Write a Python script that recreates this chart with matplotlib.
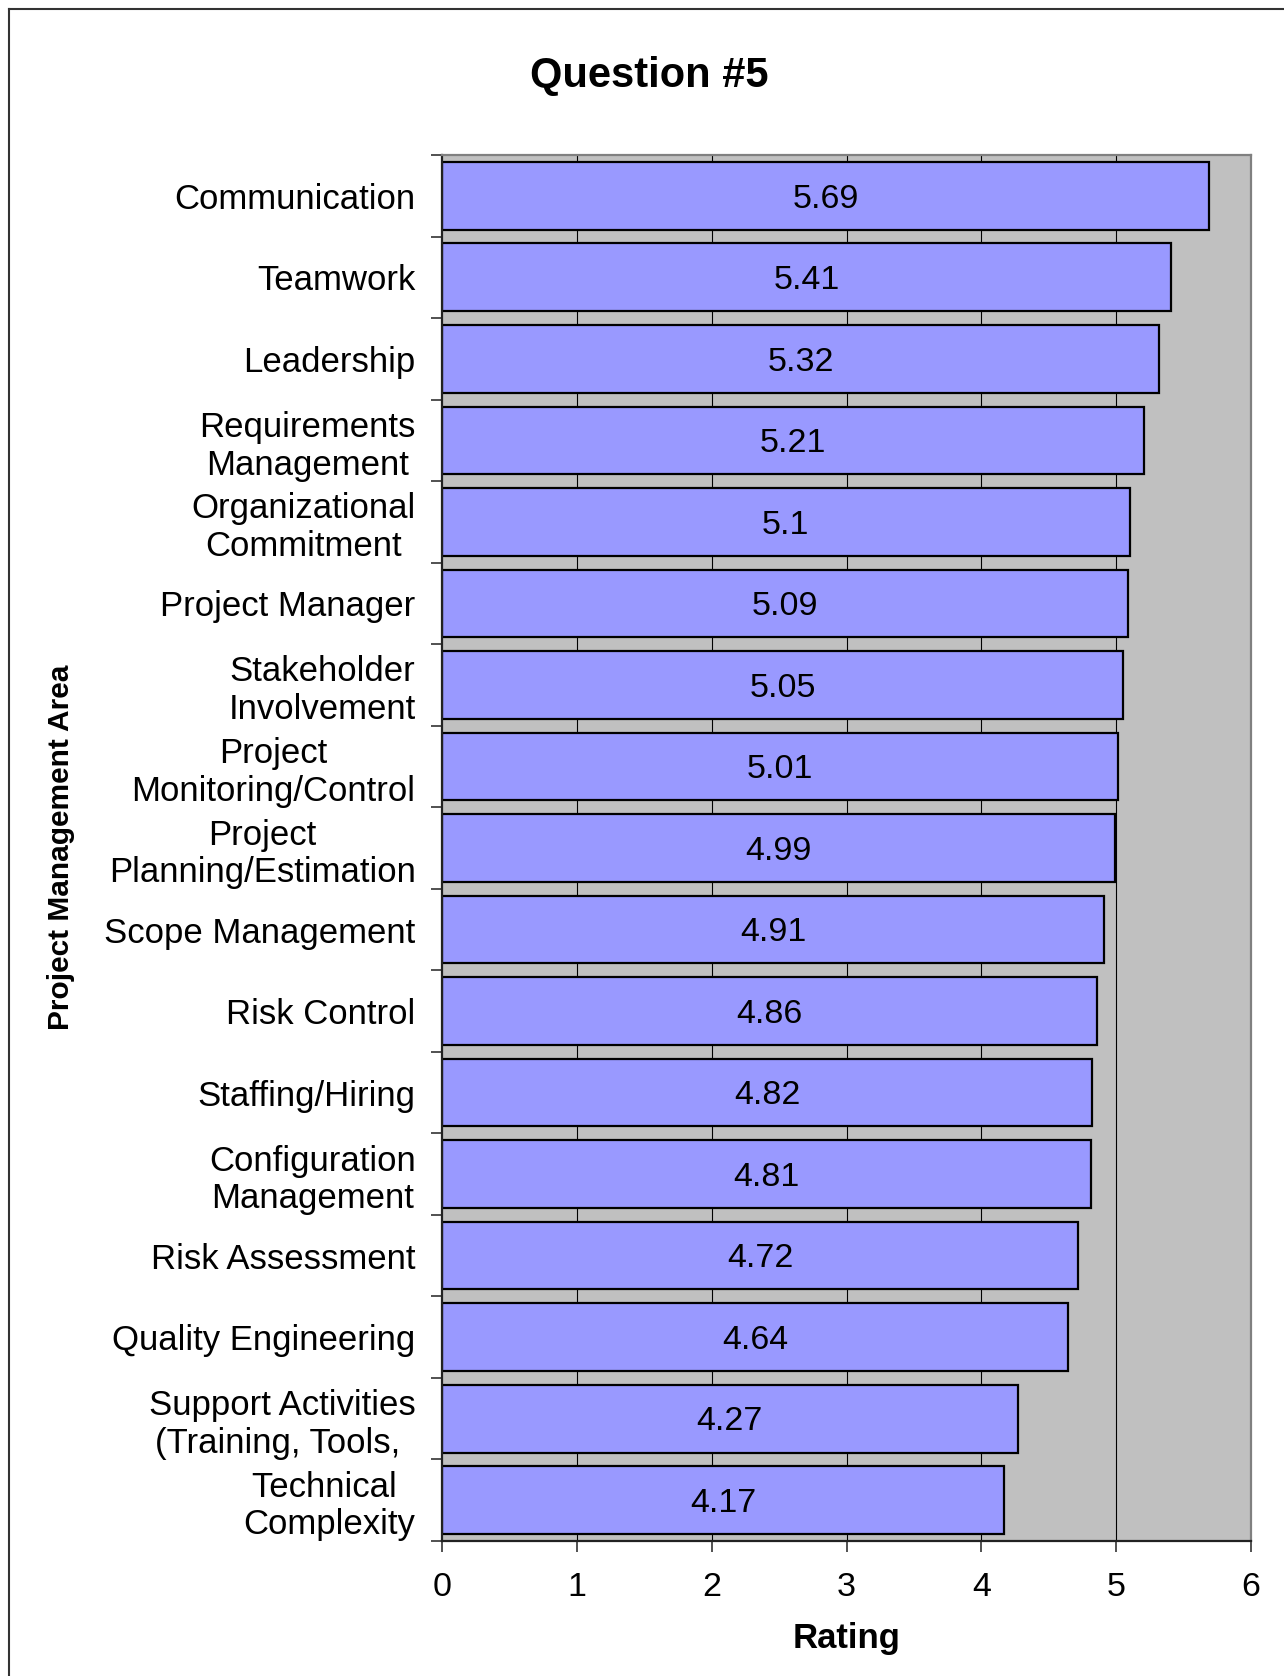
import numpy as np
import matplotlib
matplotlib.use("Agg")
import matplotlib.pyplot as plt
from matplotlib.lines import Line2D

plt.rcParams['font.family'] = ['Liberation Sans', 'DejaVu Sans']

# data (top to bottom as in the chart)
areas = [
    "Communication", "Teamwork", "Leadership",
    "Requirements\nManagement", "Organizational\nCommitment",
    "Project Manager", "Stakeholder\nInvolvement",
    "Project\nMonitoring/Control", "Project\nPlanning/Estimation",
    "Scope Management", "Risk Control", "Staffing/Hiring",
    "Configuration\nManagement", "Risk Assessment", "Quality Engineering",
    "Support Activities\n(Training, Tools, ", "Technical \nComplexity",
]
ratings = [5.69, 5.41, 5.32, 5.21, 5.1, 5.09, 5.05, 5.01, 4.99,
           4.91, 4.86, 4.82, 4.81, 4.72, 4.64, 4.27, 4.17]
rating_labels = ["5.69", "5.41", "5.32", "5.21", "5.1", "5.09", "5.05", "5.01", "4.99",
                 "4.91", "4.86", "4.82", "4.81", "4.72", "4.64", "4.27", "4.17"]
x_ticks = [0, 1, 2, 3, 4, 5, 6]

W, H = 1284, 1676
fig = plt.figure(figsize=(W / 100, H / 100), dpi=100)
ax = fig.add_axes([442 / W, 1 - 1541 / H, (1251 - 442) / W, (1541 - 155) / H])

n = len(areas)
ypos = np.arange(n)
ax.set_facecolor('#C0C0C0')
ax.set_xlim(0, 6)
ax.set_ylim(n - 0.5, -0.5)

for xv in x_ticks[1:-1]:
    ax.axvline(xv, color='black', lw=0.8, zorder=1)

ax.barh(ypos, ratings, height=0.83, color='#9999FF', edgecolor='black',
        linewidth=1.6, zorder=2)
for y, v, s in zip(ypos, ratings, rating_labels):
    ax.text(v / 2, y + 0.04, s, ha='center', va='center', fontsize=24.5, zorder=3)

ax.set_xticks(x_ticks)
ax.set_xticklabels([str(t) for t in x_ticks], fontsize=24.5)
ax.set_yticks(ypos)
ax.set_yticklabels(areas, fontsize=25, linespacing=1.18, multialignment='center')
ax.set_yticks(np.arange(-0.5, n, 1), minor=True)
ax.tick_params(axis='y', which='major', length=0, pad=19)
ax.tick_params(axis='y', which='minor', length=8, width=1.2, color='#333333')
ax.tick_params(axis='x', length=8, width=1.2, pad=14, color='#333333')

for side in ['left', 'bottom']:
    ax.spines[side].set_color('#222222')
    ax.spines[side].set_linewidth(1.6)
for side in ['top', 'right']:
    ax.spines[side].set_color('#808080')
    ax.spines[side].set_linewidth(1.6)

ax.set_xlabel("Rating", fontsize=25, fontweight='bold', labelpad=14)
fig.text(61 / W, 1 - 847 / H, "Project Management Area", rotation=90,
         fontsize=21.5, fontweight='bold', ha='center', va='center')
fig.text(649 / W, 1 - 76 / H, "Question #5", fontsize=30, fontweight='bold',
         ha='center', va='center')

# outer frame (left and top edges visible)
fig.add_artist(Line2D([9 / W, 9 / W], [0, 1 - 9 / H], color='#333333', lw=1.5,
                      transform=fig.transFigure))
fig.add_artist(Line2D([9 / W, 1], [1 - 9 / H, 1 - 9 / H], color='#333333', lw=1.5,
                      transform=fig.transFigure))

fig.savefig("out.png", dpi=100)
